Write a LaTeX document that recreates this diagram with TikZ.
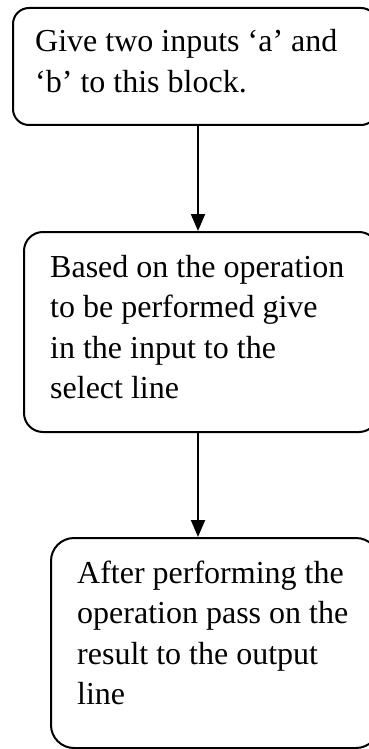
\documentclass[tikz,border=0pt]{standalone}
\usepackage{fontspec}
\setmainfont{Liberation Serif}
\usetikzlibrary{arrows.meta}
\begin{document}
\begin{tikzpicture}[x=1pt,y=-1pt,
  box/.style={draw=black, line width=2pt, anchor=north west, inner sep=0pt, fill=none},
  txt/.style={anchor=base west, inner sep=0pt, text width=330pt, align=flush left,
    font=\fontsize{32}{40.5}\selectfont},
  flow/.style={line width=2pt, -{Triangle[length=17pt,width=14pt]}}]
\useasboundingbox (0,0) rectangle (369,749);
\clip (0,0) rectangle (369,749);
\node[box, rounded corners=16pt, minimum width=364pt, minimum height=117pt] (b1) at (12,7) {};
\node[box, rounded corners=19pt, minimum width=354pt, minimum height=200pt] (b2) at (23,231) {};
\node[box, rounded corners=23pt, minimum width=328pt, minimum height=210pt] (b3) at (50,537) {};
\node[txt] (t1) at (35,52) {Give two inputs ‘a’ and\\‘b’ to this block.};
\node[txt] (t2) at (50,277) {Based on the operation\\to be performed give\\in the input to the\\select line};
\node[txt] (t3) at (77,583) {After performing the\\operation pass on the\\result to the output\\line};
\coordinate (ax) at (198,0);
\draw[flow] (b1.south -| ax) -- (b2.north -| ax);
\draw[flow] (b2.south -| ax) -- (b3.north -| ax);
\end{tikzpicture}
\end{document}
